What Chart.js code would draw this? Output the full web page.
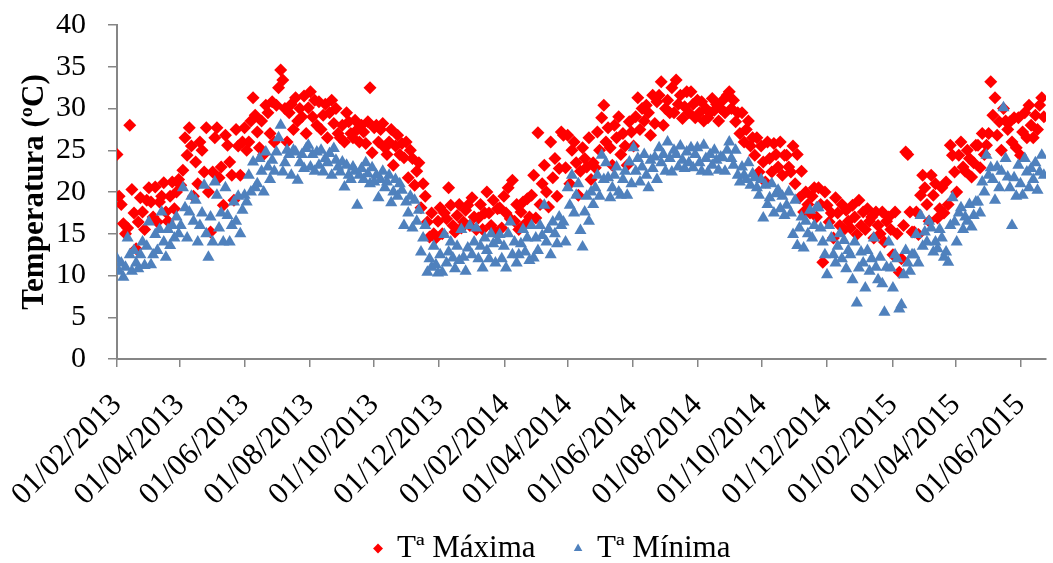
<!DOCTYPE html>
<html>
<head>
<meta charset="utf-8">
<script src="https://cdn.jsdelivr.net/npm/chart.js@4/dist/chart.umd.min.js"></script>
<style>
  html, body { margin: 0; padding: 0; background: #fff; }
  #wrap { width: 1053px; height: 563px; position: relative; }
</style>
</head>
<body>
<div id="wrap"><canvas id="tempChart"></canvas></div>
<script>
// daily readings, one value kept every 2 days from 01/02/2013
const startDate = '2013-02-01';
const stepDays = 2;

const tickLabels = [
  '01/02/2013', '01/04/2013', '01/06/2013', '01/08/2013', '01/10/2013',
  '01/12/2013', '01/02/2014', '01/04/2014', '01/06/2014', '01/08/2014',
  '01/10/2014', '01/12/2014', '01/02/2015', '01/04/2015', '01/06/2015'
];

// one row = 30 days
const tMax = [
  24.5, 19.5, 18.5, 16.2, 15, 15.7, 28, 20.3, 17.5, 13.2, 16.4, 19.3, 17.6, 15.5, 19,
  20.5, 18.8, 17, 20.6, 16.4, 18.8, 19.5, 21.1, 17.6, 16.5, 19.5, 21.2, 18, 20, 21.5,
  20.8, 22.6, 26.5, 24.4, 27.7, 25.5, 19.5, 23.6, 21, 26, 25, 22.4, 27.7, 20, 15.2,
  22.4, 26.5, 27.7, 21.7, 23, 18.4, 26.8, 25.6, 23.6, 22, 19, 27.5, 25.5, 22, 26,
  27.7, 25, 26, 28.5, 31.3, 29.2, 27.2, 25.3, 28.5, 24.5, 30.4, 29.5, 27, 30.8, 26,
  30.4, 32.5, 34.6, 33.4, 30, 26, 29.5, 30.5, 27.5, 31.3, 28.5, 30, 29, 31.5, 27,
  30.1, 32, 29, 31, 28, 30.8, 27.5, 29.2, 30.5, 26.5, 29.5, 31, 28.2, 30, 27,
  26.5, 28, 26, 29.5, 28.4, 27, 26.5, 28.6, 27.5, 26, 28, 27.2, 25.8, 28.4, 32.5,
  24.7, 27.7, 28, 26, 27.5, 28.2, 25.3, 24.5, 26, 27.5, 23.2, 25.5, 26.8, 24.5, 25.8,
  24.1, 26, 21.7, 25, 24, 20.8, 22.5, 23.5, 18.1, 21, 19.5, 16.4, 14.6, 17.5, 15,
  14.5, 16.5, 18.1, 15, 17.5, 16.8, 20.5, 18.4, 16, 15.2, 17.2, 18.5, 15.7, 16.4, 17.8,
  18.4, 16, 19.3, 17, 15.5, 16.9, 18.5, 15.5, 17.5, 20, 17.5, 16, 19, 15.2, 18,
  18.1, 15.7, 19.5, 17.5, 20.5, 16.8, 21.4, 16.5, 18.5, 15.5, 17.6, 18.8, 16.2, 19.2, 17,
  19.6, 22, 16.9, 27.1, 18.5, 21, 23.2, 20, 18.2, 26, 21.7, 24, 19.5, 22.8, 27.2,
  26.8, 22.9, 26.8, 21, 25, 26, 23.5, 19.6, 22.5, 25.3, 24, 23, 26.5, 21.5, 23.5,
  22.9, 27.2, 25, 28.9, 30.4, 26, 27.7, 25.3, 23.2, 28, 26.5, 29, 24.5, 27, 25.5,
  23.2, 28.4, 27.2, 25.5, 29, 31.3, 27.5, 30, 28.5, 30.4, 29.5, 26.8, 31.6, 28.2, 30.8,
  31.6, 33.2, 28, 30, 31, 29.5, 32.5, 29.5, 33.4, 30.5, 31.6, 28.8, 30.2, 32, 29.5,
  32, 30.5, 28.9, 31, 29.5, 30.8, 28.5, 30, 28.9, 29.5, 31.2, 29.8, 30.5, 28.5, 30,
  31, 29.5, 31.6, 32, 30, 31, 28.4, 29.5, 27, 29.5, 26, 27.5, 28.5, 25.5, 26.5,
  24.4, 26.5, 22.4, 25.5, 23.6, 21.2, 26, 24, 22.4, 25.8, 24.5, 23, 26, 22, 24.4,
  24.4, 23, 22.4, 25.5, 21, 24.5, 19.3, 22.5, 17.6, 20, 18.5, 17.5, 19.5, 20.5, 17,
  20.5, 18.5, 11.6, 20, 18.4, 16.4, 17.5, 14.5, 19.3, 17.5, 16, 18.5, 15.5, 17.8, 16.5,
  15.7, 18.4, 17, 14.9, 19, 16, 17.6, 15.5, 18, 16.5, 17, 14.5, 17.6, 16, 15,
  17.6, 14, 16.5, 17, 15.5, 12.5, 17.6, 15, 10.4, 12, 16, 24.8, 24.5, 17.6, 15.2,
  15.2, 17.6, 14.9, 19.6, 22, 20.5, 18.5, 16.5, 22, 19.6, 21, 16.9, 18, 20.5, 17.5,
  21.2, 18.5, 25.6, 24.4, 22.4, 20, 24.4, 26, 23, 22.5, 25, 24, 21.8, 23.5, 25.6,
  25.6, 22.9, 27, 24.5, 25.6, 27, 33.2, 29.2, 31.3, 26.8, 28.4, 25, 30, 28.5, 27.5,
  28.4, 26, 28.9, 25.3, 28.9, 24.4, 27.2, 29.5, 26.5, 30.4, 28, 26.5, 29.2, 27.5, 30.4,
  31.3, 29
];

const tMin = [
  12, 10.5, 11.5, 9.8, 11, 14.5, 12.5, 10.5, 13, 11.5, 10.8, 12.5, 14, 11.2, 13.5,
  16.4, 11.3, 12.5, 14.9, 13, 15.5, 17.6, 14, 12.2, 15.5, 13.6, 16, 14.5, 17, 15,
  16, 20.5, 18.1, 14.5, 17.6, 19.5, 16.5, 19, 14, 16, 17.5, 20.8, 15, 12.2, 17,
  14, 21.2, 19.6, 15.7, 17.5, 14, 20.5, 17.2, 14, 16, 18.8, 16.5, 19.5, 15, 17.8,
  19.6, 18.8, 22, 20, 23.6, 20.5, 21, 24, 22.5, 20, 24.8, 23, 21.5, 23.8, 22.5,
  24.8, 26.5, 28, 22.4, 23.5, 25, 24.5, 22, 25, 24.8, 21.4, 23.5, 24.5, 22.8, 25.2,
  25.6, 23, 24.5, 22.5, 24.8, 23.2, 25, 22.4, 24, 23.5, 24.6, 22, 25.2, 23.8, 23,
  22.4, 23.6, 20.6, 23.2, 22, 21.5, 23, 22.5, 18.4, 22, 22.8, 21.5, 23.5, 22.2, 21,
  22.9, 21.2, 22, 19.3, 21.5, 22.5, 20.5, 21.2, 22, 18.7, 20, 21.5, 19.5, 21, 20.2,
  16, 18.8, 17.5, 19.5, 15.7, 19, 16.5, 17.8, 12.8, 14.5, 16, 10.4, 12, 11, 13.5,
  11.3, 10.3, 12.5, 10.4, 14.9, 11.5, 12.8, 14, 12.1, 10.8, 13.5, 11.8, 15.5, 12.2, 10.5,
  13.3, 16, 12.5, 14, 15.7, 12, 13.5, 10.9, 14.5, 13, 12, 15, 13.8, 11.5, 14.2,
  14.9, 12, 13.5, 10.9, 15, 16.4, 12.5, 14, 11.5, 12.5, 13.8, 15.5, 12.8, 14.5, 11.8,
  16, 12.1, 14.5, 13, 16, 14.8, 18.4, 14, 15.5, 12.5, 16.4, 15, 13.8, 17, 16,
  16.4, 14, 20.5, 18.4, 22, 17.5, 19.6, 21, 15.4, 13.4, 17.6, 19.5, 16.5, 20, 18.5,
  20.5, 22, 19.5, 24.4, 21.5, 23.5, 21.7, 19.3, 20.5, 22, 23, 20, 19.6, 21.5, 22.5,
  19.6, 23.6, 21, 25.3, 22.5, 24, 21.2, 23, 24.5, 22, 20.5, 23.8, 22.8, 24.2, 21.5,
  25.3, 23.5, 24.5, 22.5, 26, 24, 22.4, 25, 24.5, 23, 25.5, 23.8, 22.8, 24.8, 23.5,
  25.3, 22.9, 24.5, 25.3, 23.5, 22.5, 25.6, 24, 22.4, 24.5, 23.2, 25, 23.8, 22.6, 24.2,
  24.1, 22.5, 25, 26, 24, 23.2, 25, 22, 21.2, 23, 22, 21.5, 23.5, 20.8, 22.2,
  21.7, 20.5, 19.6, 21.5, 16.9, 20.8, 18.5, 19.3, 21, 17.5, 19.8, 20.2, 18, 19.5, 17.2,
  18.4, 20, 17.5, 14.9, 19, 13.6, 15.7, 17, 13.3, 16.5, 15, 17.8, 14.5, 16, 18.1,
  18.1, 15.7, 14, 12.5, 10.1, 16, 14.5, 12.5, 11.5, 13.5, 15, 12, 14.2, 10.8, 13,
  12.5, 9.5, 14, 6.7, 10.9, 12.8, 11.5, 8.5, 13, 10.5, 12, 14.5, 11, 9.5, 12.2,
  9, 5.6, 11, 14, 10.9, 8.5, 12.5, 12, 6, 6.5, 10.1, 13, 11.5, 10.5, 12.5,
  12.5, 14.9, 11.5, 17.2, 13.5, 15.2, 14, 16.5, 15.7, 12.8, 14, 13.2, 15.5, 14.5, 12.2,
  12.8, 11.6, 16, 19.3, 16.4, 14, 17.5, 18.1, 15.5, 17, 16.5, 18.5, 15.8, 17.2, 18.8,
  18.8, 17.5, 21.2, 20, 24.4, 22, 22.9, 21.5, 19, 23, 20.5, 22.5, 30.1, 24, 21.8,
  20.5, 16, 21.7, 19.5, 23.2, 21, 19.6, 24, 22.4, 20.5, 22.8, 21.5, 23.5, 20.2, 22.4,
  24.4, 22
];

const axisMaxDay = 874;

function dayOffset(label) {
  const [d, m, y] = label.split('/').map(Number);
  const [sy, sm, sd] = startDate.split('-').map(Number);
  return Math.round((Date.UTC(y, m - 1, d) - Date.UTC(sy, sm - 1, sd)) / 86400000);
}

const tickDays = tickLabels.map(dayOffset);
const toPoints = (arr) => arr.map((v, i) => ({ x: i * stepDays, y: v }));

const serif = 'Liberation Serif';
const axisGrey = '#868686';

// keep the plot box where the layout padding puts it
function noScalePadding(scale) {
  scale.paddingTop = 0;
  scale.paddingBottom = 0;
  scale.paddingLeft = 0;
  scale.paddingRight = 0;
}

// move the legend a bit right and up, like the original
const legendShift = {
  id: 'legendShift',
  afterLayout(chart) {
    const lg = chart.legend;
    if (lg) {
      lg.left += 18;
      lg.right += 18;
      lg.top -= 10;
      lg.bottom -= 10;
    }
  }
};

const ctx = document.getElementById('tempChart').getContext('2d');
new Chart(ctx, {
  type: 'scatter',
  data: {
    datasets: [
      {
        label: 'Tª Máxima',
        data: toPoints(tMax),
        pointStyle: 'rectRot',
        pointRadius: 6.5,
        pointHoverRadius: 6.5,
        backgroundColor: '#FF0000',
        borderColor: '#FF0000',
        borderWidth: 0,
        order: 1
      },
      {
        label: 'Tª Mínima',
        data: toPoints(tMin),
        pointStyle: 'triangle',
        pointRadius: 7,
        pointHoverRadius: 7,
        backgroundColor: '#4F81BD',
        borderColor: '#4F81BD',
        borderWidth: 0,
        order: 0
      }
    ]
  },
  options: {
    responsive: true,
    maintainAspectRatio: false,
    animation: false,
    layout: { padding: { left: 16, right: 0, top: 25, bottom: -21 } },
    scales: {
      x: {
        type: 'linear',
        min: 0,
        max: axisMaxDay,
        afterBuildTicks: (scale) => {
          scale.ticks = tickDays.map((v) => ({ value: v }));
        },
        afterFit: (scale) => {
          scale.height = 145;
          noScalePadding(scale);
        },
        border: { display: true, color: axisGrey, width: 2 },
        grid: { display: true, drawOnChartArea: false, drawTicks: true, tickLength: 8, color: axisGrey, lineWidth: 1.5 },
        ticks: {
          autoSkip: false,
          minRotation: 45,
          maxRotation: 45,
          padding: 20,
          color: '#000',
          font: { family: serif, size: 31 },
          callback: (value, index) => tickLabels[index]
        }
      },
      y: {
        min: 0,
        max: 40,
        afterFit: (scale) => {
          scale.width = 101;
          noScalePadding(scale);
        },
        border: { display: true, color: axisGrey, width: 2 },
        grid: { display: true, drawOnChartArea: false, drawTicks: true, tickLength: 9, color: axisGrey, lineWidth: 1.5 },
        ticks: {
          stepSize: 5,
          padding: 22,
          color: '#000',
          font: { family: serif, size: 30 }
        },
        title: {
          display: true,
          text: 'Temperatura (ºC)',
          color: '#000',
          padding: 0,
          font: { family: serif, size: 31, weight: 'bold' }
        }
      }
    },
    plugins: {
      legend: {
        position: 'bottom',
        labels: {
          usePointStyle: true,
          boxWidth: 7,
          boxHeight: 7,
          padding: 39,
          color: '#000',
          font: { family: serif, size: 31 },
          sort: (a, b) => a.datasetIndex - b.datasetIndex
        }
      },
      tooltip: { enabled: false }
    }
  },
  plugins: [legendShift]
});
</script>
</body>
</html>
